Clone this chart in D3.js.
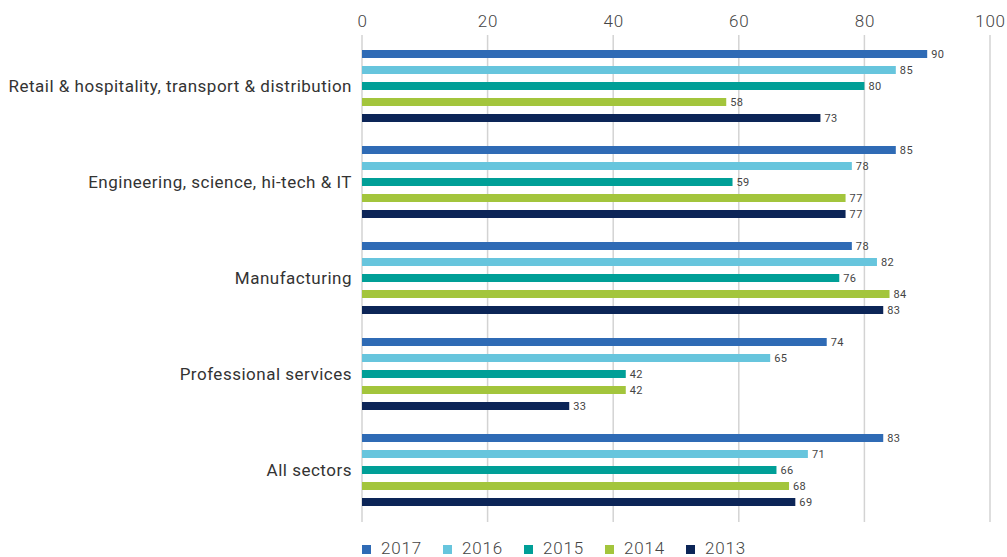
<!DOCTYPE html>
<html>
<head>
<meta charset="utf-8">
<script src="https://cdn.jsdelivr.net/npm/d3@7"></script>
<style>
  html, body { margin: 0; padding: 0; background: #ffffff; }
  svg { display: block; }
  text { font-family: "Roboto", "DejaVu Sans", sans-serif; }
</style>
</head>
<body>
<svg id="chart" width="1007" height="557"></svg>
<script>
// Sector categories, top to bottom
const sectors = [
  "Retail & hospitality, transport & distribution",
  "Engineering, science, hi-tech & IT",
  "Manufacturing",
  "Professional services",
  "All sectors"
];
// Survey years, in the order bars appear within each sector
const years = ["2017", "2016", "2015", "2014", "2013"];
const values2017 = [90, 85, 78, 74, 83];
const values2016 = [85, 78, 82, 65, 71];
const values2015 = [80, 59, 76, 42, 66];
const values2014 = [58, 77, 84, 42, 68];
const values2013 = [73, 77, 83, 33, 69];
const xTicks = [0, 20, 40, 60, 80, 100];
const yearColors = ["#2f6bb5", "#67c5dd", "#009f97", "#a3c53c", "#0c2557"];

const seriesValues = [values2017, values2016, values2015, values2014, values2013];
const rows = sectors.map((s, i) => ({
  sector: s,
  bars: years.map((y, j) => ({ year: y, value: seriesValues[j][i] }))
}));

const svg = d3.select("#chart");
const plotTop = 38, plotBottom = 518;

const x = d3.scaleLinear().domain([0, 100]).range([362, 990]);
const y0 = d3.scaleBand().domain(sectors).range([plotTop, plotBottom]).paddingInner(0).paddingOuter(0);
const y1 = d3.scaleBand().domain(years).range([y0.bandwidth() / 2 - 44, y0.bandwidth() / 2 + 44]).padding(0.5);
const color = d3.scaleOrdinal().domain(years).range(yearColors);

// Vertical gridlines
svg.append("g")
  .selectAll("line")
  .data(xTicks)
  .join("line")
  .attr("x1", d => x(d)).attr("x2", d => x(d))
  .attr("y1", 35).attr("y2", 522)
  .attr("stroke", "#d3d3d3")
  .attr("stroke-width", 1.5);

// Top axis tick labels
const axis = svg.append("g")
  .attr("transform", "translate(0,27)")
  .call(d3.axisTop(x).tickValues(xTicks).tickSize(0).tickPadding(0));
axis.select(".domain").remove();
axis.selectAll("text")
  .attr("font-size", 17)
  .attr("fill", "#444")
  .attr("font-family", "Roboto, 'DejaVu Sans', sans-serif")
  .attr("font-weight", 300)
  .attr("letter-spacing", 0.8);

// Sector groups
const groups = svg.append("g")
  .selectAll("g")
  .data(rows)
  .join("g")
  .attr("transform", d => `translate(0,${y0(d.sector)})`);

groups.append("text")
  .attr("x", 352)
  .attr("y", y0.bandwidth() / 2)
  .attr("dy", "0.35em")
  .attr("text-anchor", "end")
  .attr("font-size", 17)
  .attr("letter-spacing", 0.5)
  .attr("fill", "#333")
  .text(d => d.sector);

groups.selectAll("rect")
  .data(d => d.bars)
  .join("rect")
  .attr("x", x(0))
  .attr("y", d => y1(d.year))
  .attr("width", d => x(d.value) - x(0))
  .attr("height", y1.bandwidth())
  .attr("fill", d => color(d.year));

groups.selectAll("text.value")
  .data(d => d.bars)
  .join("text")
  .attr("class", "value")
  .attr("x", d => x(d.value) + 4)
  .attr("y", d => y1(d.year) + y1.bandwidth() / 2)
  .attr("dy", "0.35em")
  .attr("font-size", 11)
  .attr("letter-spacing", 0.4)
  .attr("fill", "#444")
  .text(d => d.value);

// Legend
const legend = svg.append("g")
  .selectAll("g")
  .data(years)
  .join("g")
  .attr("transform", (d, i) => `translate(${362 + i * 81},0)`);

legend.append("rect")
  .attr("x", 0).attr("y", 545)
  .attr("width", 9).attr("height", 9)
  .attr("fill", d => color(d));

legend.append("text")
  .attr("x", 19).attr("y", 554)
  .attr("font-size", 17)
  .attr("fill", "#444")
  .attr("font-weight", 300)
  .attr("letter-spacing", 0.8)
  .text(d => d);
</script>
</body>
</html>
